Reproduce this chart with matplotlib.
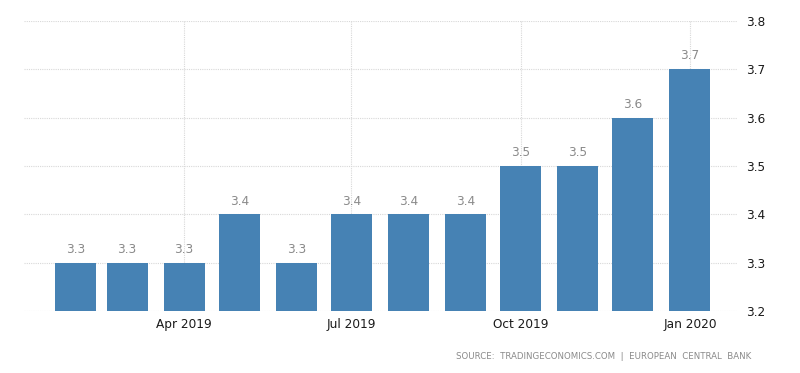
import matplotlib.pyplot as plt
import datetime as dt

# monthly series, Feb 2019 - Jan 2020
months = ["2019-02", "2019-03", "2019-04", "2019-05", "2019-06", "2019-07",
          "2019-08", "2019-09", "2019-10", "2019-11", "2019-12", "2020-01"]
values = [3.3, 3.3, 3.3, 3.4, 3.3, 3.4, 3.4, 3.4, 3.5, 3.5, 3.6, 3.7]
tick_months = ["2019-04", "2019-07", "2019-10", "2020-01"]
tick_labels = ["Apr 2019", "Jul 2019", "Oct 2019", "Jan 2020"]
y_ticks = [3.2, 3.3, 3.4, 3.5, 3.6, 3.7, 3.8]

def to_date(s):
    return dt.datetime.strptime(s + "-01", "%Y-%m-%d")

dates = [to_date(m) for m in months]
ticks = [to_date(m) for m in tick_months]

fig = plt.figure(figsize=(8, 3.73), dpi=100)
ax = fig.add_axes([0.03, 0.166, 0.891, 0.778])

ax.bar(dates, [v - 3.2 for v in values], bottom=3.2, width=22.3,
       color="#4682b4", zorder=3)
for d, v in zip(dates, values):
    ax.text(d, v + 0.014, f"{v:.1f}", ha="center", va="bottom",
            fontsize=8.7, color="#8a8a8a")

ax.set_ylim(3.2, 3.8)
ax.set_xlim(dt.datetime(2019, 1, 4), dt.datetime(2020, 1, 26, 12))
ax.set_yticks(y_ticks)
ax.set_yticklabels([f"{t:.1f}" for t in y_ticks])
ax.yaxis.tick_right()
ax.set_xticks(ticks)
ax.set_xticklabels(tick_labels)
ax.tick_params(axis="both", length=0, labelsize=8.7, colors="#1a1a1a")
ax.tick_params(axis="y", pad=7)
ax.tick_params(axis="x", pad=5)

ax.grid(True, color="#d8d8d8", linestyle=(0, (1, 1)), linewidth=0.8, zorder=0)
for s in ax.spines.values():
    s.set_visible(False)

fig.text(0.939, 0.045, "SOURCE:  TRADINGECONOMICS.COM  |  EUROPEAN  CENTRAL  BANK",
         ha="right", va="center", fontsize=6.2, color="#8a8a8a")

fig.savefig("out.png", dpi=100)
